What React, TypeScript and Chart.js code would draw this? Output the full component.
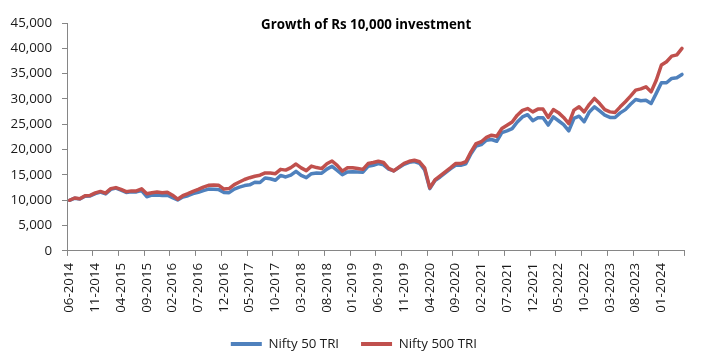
import React, { useEffect, useRef } from 'react';
import { Chart, registerables } from 'chart.js';

Chart.register(...registerables);

const TITLE = 'Growth of Rs 10,000 investment';
const SERIES_NAMES = ['Nifty 50 TRI', 'Nifty 500 TRI'];
const SERIES_COLORS = ['#4F81BD', '#C0504D'];

// Monthly categories 06-2014 ... 05-2024
const START_MONTH = 6;
const START_YEAR = 2014;
const MONTH_COUNT = 120;
const months: string[] = [];
for (let i = 0; i < MONTH_COUNT; i++) {
  const m = ((START_MONTH - 1 + i) % 12) + 1;
  const y = START_YEAR + Math.floor((START_MONTH - 1 + i) / 12);
  months.push(`${String(m).padStart(2, '0')}-${y}`);
}
const LABEL_EVERY = 5;

const Y_MIN = 0;
const Y_MAX = 45000;
const Y_STEP = 5000;

const nifty50 = [
  10000, 10400, 10250, 10800, 10850, 11300, 11600, 11250, 12150, 12400,
  12000, 11550, 11700, 11650, 11900, 10700, 11000, 11050, 10950, 11000,
  10500, 10050, 10650, 10900, 11300, 11550, 11900, 12200, 12150, 12100,
  11550, 11500, 12200, 12600, 12900, 13050, 13550, 13500, 14400, 14250,
  13950, 14900, 14600, 14950, 15700, 14900, 14450, 15250, 15400, 15350,
  16150, 16700, 15900, 15050, 15600, 15650, 15600, 15550, 16700, 16900,
  17250, 17000, 16150, 15800, 16450, 17100, 17500, 17650, 17300, 16000,
  12300, 13900, 14600, 15400, 16200, 16900, 16900, 17200, 19200, 20700,
  21000, 21850, 22000, 21650, 23350, 23700, 24150, 25450, 26450, 26900,
  25700, 26300, 26300, 24850, 26450, 25700, 24950, 23700, 26150, 26600,
  25500, 27450, 28450, 27650, 26800, 26350, 26350, 27250, 27900, 28950,
  29900, 29650, 29750, 29100, 31100, 33200, 33200, 34050, 34200, 34850,
];

const nifty500 = [
  10000, 10450, 10300, 10900, 10950, 11450, 11750, 11400, 12300, 12500,
  12150, 11700, 11850, 11850, 12250, 11300, 11500, 11650, 11500, 11600,
  11000, 10200, 10900, 11300, 11750, 12150, 12600, 12950, 13000, 12950,
  12200, 12300, 13100, 13600, 14100, 14450, 14750, 14950, 15400, 15400,
  15250, 16100, 15950, 16450, 17150, 16400, 15850, 16750, 16450, 16250,
  17200, 17750, 16900, 15750, 16400, 16400, 16250, 16100, 17250, 17450,
  17700, 17450, 16300, 15800, 16550, 17300, 17700, 17900, 17600, 16400,
  12450, 14000, 14800, 15600, 16400, 17250, 17250, 17600, 19550, 21200,
  21550, 22400, 22850, 22650, 24150, 24800, 25450, 26800, 27750, 28100,
  27450, 28000, 28000, 26350, 27900, 27300, 26350, 25150, 27800, 28450,
  27450, 28950, 30100, 29100, 27900, 27450, 27350, 28450, 29450, 30550,
  31750, 32000, 32400, 31400, 33700, 36700, 37350, 38450, 38700, 40000,
];

const FONT = '"Open Sans", "Liberation Sans", sans-serif';
const AXIS_GREY = '#868686';
const TEXT = '#1a1a1a';

const titlePlugin = {
  id: 'innerTitle',
  afterDraw(chart: any) {
    const { ctx, chartArea } = chart;
    ctx.save();
    ctx.font = `bold 13.3px ${FONT}`;
    ctx.fillStyle = '#000';
    ctx.textAlign = 'center';
    ctx.textBaseline = 'middle';
    ctx.fillText(TITLE, chartArea.left + chartArea.width * 0.4845, chartArea.top + 2);
    ctx.restore();
  },
};

// centre the legend on the whole canvas rather than the padded layout box
const legendShiftPlugin = {
  id: 'legendShift',
  afterLayout(chart: any) {
    const lg = chart.legend;
    if (lg) {
      lg.left += 8;
      lg.right += 8;
    }
  },
};

export default function App() {
  const ref = useRef<HTMLCanvasElement | null>(null);

  useEffect(() => {
    if (!ref.current) return;
    const chart = new Chart(ref.current, {
      type: 'line',
      data: {
        labels: months,
        datasets: [
          {
            label: SERIES_NAMES[0],
            data: nifty50,
            borderColor: SERIES_COLORS[0],
            backgroundColor: SERIES_COLORS[0],
            borderWidth: 3.5,
            pointRadius: 0,
            tension: 0,
            borderJoinStyle: 'round',
            borderCapStyle: 'round',
            order: 1,
          },
          {
            label: SERIES_NAMES[1],
            data: nifty500,
            borderColor: SERIES_COLORS[1],
            backgroundColor: SERIES_COLORS[1],
            borderWidth: 3.5,
            pointRadius: 0,
            tension: 0,
            borderJoinStyle: 'round',
            borderCapStyle: 'round',
            order: 0,
          },
        ],
      },
      options: {
        responsive: false,
        animation: false,
        events: [],
        layout: { padding: { left: 0, right: 13.3, top: 23, bottom: -5.6 } },
        plugins: {
          title: { display: false },
          tooltip: { enabled: false },
          legend: {
            position: 'bottom',
            labels: {
              usePointStyle: true,
              pointStyleWidth: 31,
              padding: 22,
              color: TEXT,
              font: { family: FONT, size: 13.3 },
              generateLabels: (c: any) =>
                c.data.datasets.map((ds: any, i: number) => ({
                  text: ds.label,
                  fillStyle: ds.borderColor,
                  strokeStyle: ds.borderColor,
                  lineWidth: 4,
                  pointStyle: 'line',
                  lineCap: 'butt',
                  hidden: false,
                  datasetIndex: i,
                  fontColor: TEXT,
                })),
            },
          },
        },
        scales: {
          x: {
            type: 'category',
            offset: true,
            afterFit: (s: any) => {
              s.height = 64.4;
            },
            border: { display: true, color: AXIS_GREY, width: 1 },
            grid: {
              offset: true,
              drawOnChartArea: false,
              drawTicks: true,
              tickLength: 5,
              color: (ctx: any) =>
                ctx.type !== 'tick' || ctx.index % LABEL_EVERY === 0 ? AXIS_GREY : 'rgba(0,0,0,0)',
            },
            ticks: {
              autoSkip: false,
              minRotation: 90,
              maxRotation: 90,
              padding: 7,
              color: TEXT,
              font: { family: FONT, size: 13.3 },
              callback: (_v: any, i: number) => (i % LABEL_EVERY === 0 ? months[i] : ''),
            },
          },
          y: {
            min: Y_MIN,
            max: Y_MAX,
            afterFit: (s: any) => {
              s.width = 67;
            },
            border: { display: true, color: AXIS_GREY, width: 1 },
            grid: {
              drawOnChartArea: false,
              drawTicks: true,
              tickLength: 5,
              color: AXIS_GREY,
            },
            ticks: {
              stepSize: Y_STEP,
              padding: 10,
              color: TEXT,
              font: { family: FONT, size: 13.3 },
              callback: (v: any) => Number(v).toLocaleString('en-US'),
            },
          },
        },
      },
      plugins: [titlePlugin, legendShiftPlugin],
    });
    return () => chart.destroy();
  }, []);

  return (
    <div style={{ position: 'absolute', left: 0, top: 0, width: 705, height: 355, background: '#fff' }}>
      <canvas ref={ref} width={705} height={355} style={{ display: 'block' }} />
    </div>
  );
}
